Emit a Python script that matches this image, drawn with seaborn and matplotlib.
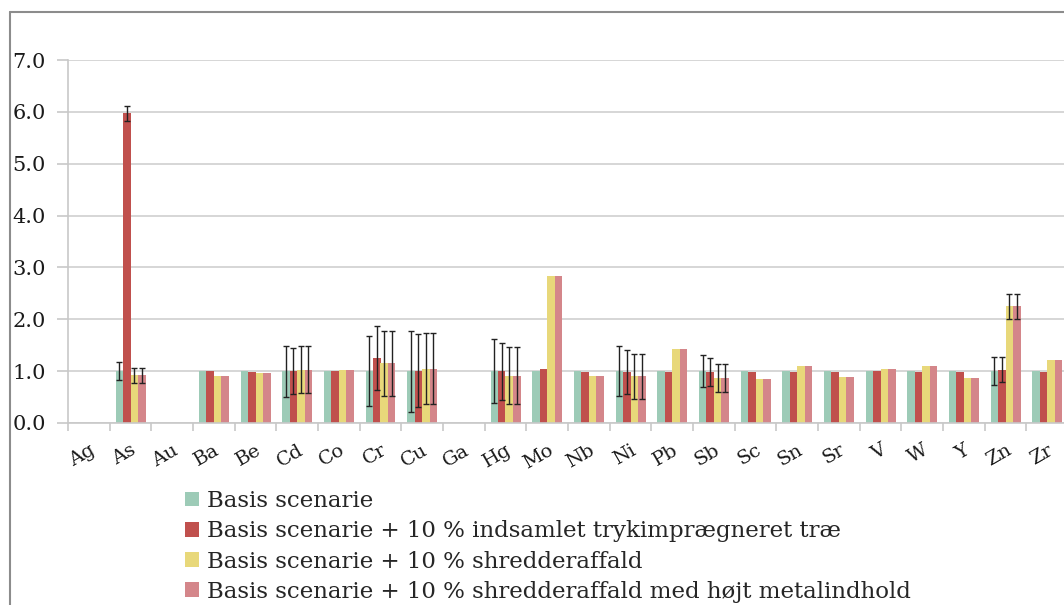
import numpy as np
import pandas as pd
import seaborn as sns
import matplotlib.pyplot as plt
from matplotlib.lines import Line2D

# elements on the x axis
elements = ["Ag", "As", "Au", "Ba", "Be", "Cd", "Co", "Cr", "Cu", "Ga", "Hg", "Mo",
            "Nb", "Ni", "Pb", "Sb", "Sc", "Sn", "Sr", "V", "W", "Y", "Zn", "Zr"]

scenarios = ["Basis scenarie",
             "Basis scenarie + 10 % indsamlet trykimprægneret træ",
             "Basis scenarie + 10 % shredderaffald",
             "Basis scenarie + 10 % shredderaffald med højt metalindhold"]

nan = np.nan
basis = [nan, 1.00, nan, 1.00, 1.00, 1.00, 1.00, 1.00, 1.00, nan, 1.00, 1.00,
         1.00, 1.00, 1.00, 1.00, 1.00, 1.00, 1.00, 1.00, 1.00, 1.00, 1.00, 1.00]
trae = [nan, 5.97, nan, 1.00, 0.98, 1.00, 1.00, 1.25, 1.01, nan, 1.00, 1.05,
        0.98, 0.98, 0.98, 0.98, 0.98, 0.98, 0.98, 1.00, 0.98, 0.98, 1.03, 0.98]
shredder = [nan, 0.92, nan, 0.90, 0.96, 1.03, 1.02, 1.15, 1.05, nan, 0.91, 2.84,
            0.91, 0.90, 1.42, 0.87, 0.85, 1.10, 0.88, 1.04, 1.09, 0.87, 2.25, 1.21]
shredder_metal = [nan, 0.92, nan, 0.90, 0.96, 1.03, 1.02, 1.15, 1.05, nan, 0.91, 2.84,
                  0.91, 0.90, 1.42, 0.87, 0.85, 1.10, 0.88, 1.04, 1.09, 0.87, 2.25, 1.21]

# error bar half widths (0 = no error bar)
err_basis = [0, 0.17, 0, 0, 0, 0.49, 0, 0.68, 0.78, 0, 0.62, 0,
             0, 0.48, 0, 0.31, 0, 0, 0, 0, 0, 0, 0.27, 0]
err_trae = [0, 0.15, 0, 0, 0, 0.45, 0, 0.62, 0.70, 0, 0.55, 0,
            0, 0.43, 0, 0.27, 0, 0, 0, 0, 0, 0, 0.24, 0]
err_shredder = [0, 0.15, 0, 0, 0, 0.45, 0, 0.62, 0.69, 0, 0.55, 0,
                0, 0.43, 0, 0.27, 0, 0, 0, 0, 0, 0, 0.24, 0]
err_shredder_metal = [0, 0.15, 0, 0, 0, 0.45, 0, 0.62, 0.69, 0, 0.55, 0,
                      0, 0.43, 0, 0.27, 0, 0, 0, 0, 0, 0, 0.24, 0]

colors = ["#9DCBB7", "#C0504D", "#E8D87A", "#D4868A"]

values = [basis, trae, shredder, shredder_metal]
errors = [err_basis, err_trae, err_shredder, err_shredder_metal]

rows = []
for s, vals, errs in zip(scenarios, values, errors):
    for el, v, e in zip(elements, vals, errs):
        rows.append({"element": el, "scenario": s, "value": v, "err": e})
df = pd.DataFrame(rows)

sns.set_style("white")
plt.rcParams["font.family"] = ["DejaVu Serif"]

fig = plt.figure(figsize=(10.64, 6.05), dpi=100)
ax = fig.add_axes([68 / 1064, 182 / 605, 1000 / 1064, 363 / 605])

sns.barplot(data=df, x="element", y="value", hue="scenario", hue_order=scenarios,
            order=elements, palette=colors, width=0.72, gap=0, errorbar=None,
            saturation=1, linewidth=0, ax=ax)

# error bars on top of the seaborn bars
bar_containers = list(ax.containers)
for k, cont in enumerate(bar_containers):
    errs = errors[k]
    for bar in cont:
        h = bar.get_height()
        if np.isnan(h) or h == 0:
            continue
        cx = bar.get_x() + bar.get_width() / 2
        idx = int(round(cx))
        if errs[idx] > 0:
            ax.errorbar(cx, h, yerr=errs[idx], fmt="none", ecolor="#222222",
                        elinewidth=1, capsize=2.5, capthick=1, zorder=5)

ax.set_ylim(0, 7)
ax.set_xlim(-0.5, len(elements) - 0.5)
ax.set_yticks(np.arange(0, 8, 1))
ax.set_yticklabels(["{:.1f}".format(v) for v in np.arange(0, 8, 1)])
ax.yaxis.grid(True, color="#D0D0D0", lw=1.2)
ax.set_axisbelow(True)
ax.set_xlabel("")
ax.set_ylabel("")

for sp in ["top", "right"]:
    ax.spines[sp].set_visible(False)
for sp in ["left", "bottom"]:
    ax.spines[sp].set_color("#C8C8C8")
    ax.spines[sp].set_linewidth(1.2)

ax.tick_params(axis="y", left=True, length=8, color="#C8C8C8", width=1.2, labelsize=15,
               labelcolor="#1a1a1a", pad=8)
ax.set_xticks(np.arange(-0.5, len(elements), 1), minor=True)
ax.tick_params(axis="x", which="major", length=0, pad=13, labelsize=14, labelcolor="#1a1a1a")
ax.tick_params(axis="x", which="minor", bottom=True, length=6, color="#C8C8C8", width=1.2)
plt.setp(ax.get_xticklabels(), rotation=30, ha="right", rotation_mode="anchor")

handles, labels = ax.get_legend_handles_labels()
ax.legend(handles, labels, loc="upper left", bbox_to_anchor=(185 / 1064, 1 - 490 / 605),
          bbox_transform=fig.transFigure, frameon=False, fontsize=16.5,
          handlelength=0.62, handleheight=0.62, handletextpad=0.35,
          labelspacing=0.36, borderpad=0, borderaxespad=0)

# outer frame lines (left and top)
fig.add_artist(Line2D([10 / 1064, 10 / 1064], [0, 1 - 12 / 605], transform=fig.transFigure,
                      color="#8C8C8C", lw=1.5))
fig.add_artist(Line2D([10 / 1064, 1], [1 - 12 / 605, 1 - 12 / 605], transform=fig.transFigure,
                      color="#8C8C8C", lw=1.5))

fig.savefig("out.png", dpi=100)
